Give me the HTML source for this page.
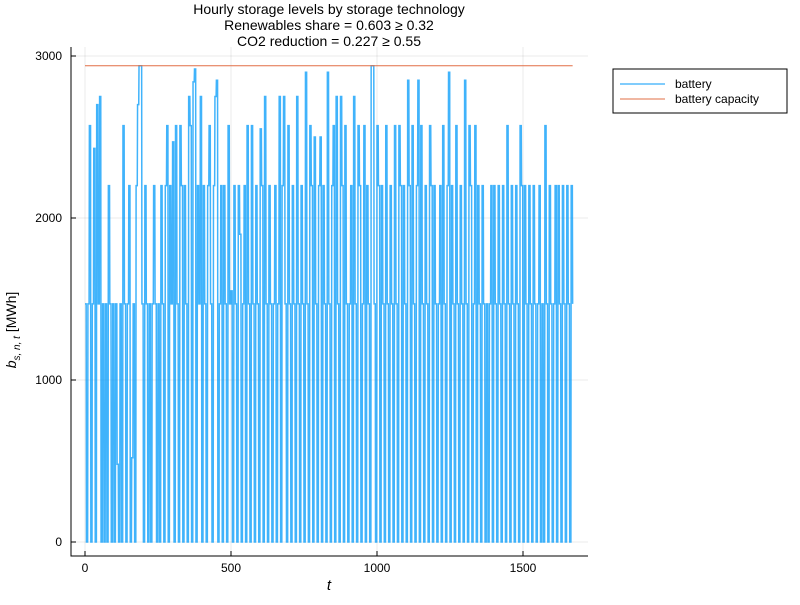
<!DOCTYPE html>
<html><head><meta charset="utf-8"><style>
body{margin:0;background:#fff;font-family:"Liberation Sans","DejaVu Sans",sans-serif}
svg text{font-family:"Liberation Sans","DejaVu Sans",sans-serif}
</style></head><body>
<svg id="chart" width="800" height="600" viewBox="0 0 800 600">
<rect width="800" height="600" fill="#fff"/>
<g font-size="14" text-anchor="middle" fill="#000">
<text x="329" y="14">Hourly storage levels by storage technology</text>
<text x="329" y="30">Renewables share = 0.603 ≥ 0.32</text>
<text x="329" y="46">CO2 reduction = 0.227 ≥ 0.55</text>
</g>
<g id="grid"></g>
<g id="series"></g>
<g id="axes"></g>
<text x="329" y="590" font-size="15" font-style="italic" font-family="Liberation Serif" text-anchor="middle">t</text>
<text transform="translate(16,330) rotate(-90)" font-size="14" font-family="Liberation Serif" text-anchor="middle"><tspan font-style="italic">b</tspan><tspan font-size="10" dy="4" font-style="italic">s, n, t</tspan><tspan dy="-4"> [MWh]</tspan></text>
<g>
<rect x="613" y="69" width="174" height="44" fill="#fff" stroke="#000" stroke-width="1"/>
<line x1="620" y1="84" x2="665" y2="84" stroke="#009af9" stroke-width="1"/>
<text x="675" y="88" font-size="12">battery</text>
<line x1="620" y1="99" x2="665" y2="99" stroke="#e26f46" stroke-width="1"/>
<text x="675" y="103" font-size="12">battery capacity</text>
</g>
</svg>
<script>
const xTicks=[0,500,1000,1500];
const yTicks=[0,1000,2000,3000];
const capacity=2940;
const tStep=5;
const battery=[
1470,0,1470,2570,0,1470,2430,0,2700,1470,2750,0,1470,0,1470,0,2200,1470,0,1470,
0,1470,480,0,1470,0,2570,1470,0,1470,2200,0,520,1470,0,2200,2700,2940,2940,1470,
0,2200,1470,0,1470,0,1470,2200,1470,0,1470,0,2200,1470,0,2200,2570,0,2200,1470,
2470,0,2570,1470,0,2570,2200,0,2200,1470,0,2750,2570,0,2840,2920,0,2200,1470,2750,
0,2200,1470,0,2200,2570,1470,0,2200,2750,2850,0,1470,2200,0,2200,1470,0,2570,1470,
1550,0,2200,1470,0,2200,1900,0,1470,2200,0,2570,1470,0,2570,1470,0,2200,1470,0,
2550,2200,0,2750,1470,0,2200,1470,0,1470,2200,0,1470,2750,0,2200,2750,1470,0,2570,
1470,0,2200,1470,0,2750,1470,0,2200,1470,0,2900,1470,0,2570,2200,0,2500,1470,0,
2200,2500,0,2200,1470,0,2900,1470,0,2200,2570,0,2750,1470,0,2750,2200,0,2570,1470,
0,1470,2200,0,2750,1470,0,2570,2200,0,1470,2570,0,2200,1470,0,2940,2940,1470,0,2570,
2200,0,2200,1470,0,2570,1470,0,2200,1470,0,2570,1470,0,2570,2200,0,2200,1470,0,
2850,2200,0,2570,1470,0,2200,2850,0,2570,1470,0,2200,1470,0,2570,2200,0,2200,1470,
0,1470,2200,0,2570,1470,0,2200,2900,0,2200,1470,0,2570,1470,0,2200,1470,0,2850,
1470,0,2570,2200,0,1470,2570,0,2200,1470,0,2200,1470,0,1470,0,1470,2200,0,2200,
1470,0,2200,1470,0,2200,1470,0,2570,1470,0,2200,1470,0,2200,1470,0,2570,2200,0,
2200,1470,0,2200,1470,0,2200,1470,0,1470,2200,0,1470,0,2570,1470,0,2200,1470,0,
1470,2200,0,2200,1470,0,2200,1470,0,2200,1470,0,2200,1470
];
const X0=85,XS=146/500,Y0=542,YS=162/1000;
const xs=v=>X0+v*XS, ys=v=>Y0-v*YS;
const NS='http://www.w3.org/2000/svg';
function mk(tag,attrs,parent){const e=document.createElementNS(NS,tag);for(const k in attrs)e.setAttribute(k,attrs[k]);parent.appendChild(e);return e;}
const grid=document.getElementById('grid'),axes=document.getElementById('axes'),series=document.getElementById('series');
xTicks.forEach(v=>{
 const g=mk('line',{x1:xs(v),x2:xs(v),y1:47,y2:556,stroke:'#000','stroke-opacity':0.08},grid);
 
 
 const t=mk('line',{x1:xs(v),x2:xs(v),y1:556,y2:551,stroke:'#000'},axes);
 
 
 const l=mk('text',{x:xs(v),y:572,'font-size':12,'text-anchor':'middle'},axes);l.textContent=v;
 
 
});
yTicks.forEach(v=>{
 const g=mk('line',{x1:71,x2:588,y1:ys(v),y2:ys(v),stroke:'#000','stroke-opacity':0.08},grid);
 
 
 const t=mk('line',{x1:71,x2:76,y1:ys(v),y2:ys(v),stroke:'#000'},axes);
 
 
 const l=mk('text',{x:62,y:ys(v)+4,'font-size':12,'text-anchor':'end'},axes);l.textContent=v;
 
 
});
const ax=mk('path',{d:'M71,47 V556 H588',fill:'none',stroke:'#000','stroke-width':1},axes);


let d='';
battery.forEach((v,i)=>{
 const x=xs(i*tStep).toFixed(2), y=ys(v).toFixed(2);
 if(i===0) d+='M'+x+','+y;
 else d+='L'+xs(i*tStep-1).toFixed(2)+','+ys(battery[i-1]).toFixed(2)+'L'+x+','+y;
});
const p=mk('path',{d:d,fill:'none',stroke:'#009af9','stroke-opacity':0.75,'stroke-width':1.5},series);


const last=(battery.length-1)*tStep;
const c=mk('line',{x1:xs(0),x2:xs(last),y1:ys(capacity),y2:ys(capacity),stroke:'#e26f46','stroke-width':1},series);


</script>
</body></html>
